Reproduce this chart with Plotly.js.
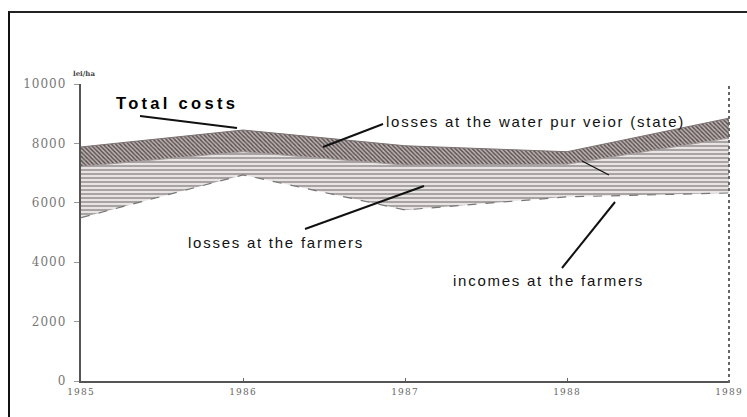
<!DOCTYPE html>
<html>
<head>
<meta charset="utf-8">
<script src="https://cdn.plot.ly/plotly-3.0.1.min.js"></script>
<style>
  html, body { margin: 0; padding: 0; background: #fff; overflow: hidden; }
  #wrap { position: relative; width: 747px; height: 417px; overflow: hidden; }
  #chart { width: 747px; height: 417px; }
  #frame { position: absolute; left: 8px; top: 11px; width: 800px; height: 500px;
           border-left: 2px solid #111; border-top: 2px solid #222; pointer-events: none; }
  .ytick text { letter-spacing: 1px; }
  .xtick text { letter-spacing: 1.2px; }
</style>
</head>
<body>
<div id="wrap">
  <div id="chart"></div>
  <div id="frame"></div>
</div>
<script>
// Data (lei/ha), stacked from bottom to top
const years = [1985, 1986, 1987, 1988, 1989];
const incomesFarmers = [5500, 6940, 5760, 6200, 6330];
const lossesFarmers = [1720, 780, 1510, 1100, 1850];
const lossesWaterPurveyor = [660, 730, 650, 420, 670];
const yTickVals = [0, 2000, 4000, 6000, 8000, 10000];
const yTickText = ['0', '2000', '4000', '6000', '8000', '10000'];
const xTickText = ['1985', '1986', '1987', '1988', '1989'];

// plot area geometry (pixels)
const L = 81, R = 729, T = 84, B = 381;
const W = R - L, H = B - T;
const px = v => (v - L) / W;
const py = v => (B - v) / H;

const traces = [
  {
    x: years, y: incomesFarmers, name: 'incomes at the farmers',
    type: 'scatter', mode: 'lines', stackgroup: 'one',
    line: { color: '#777', width: 1.2, dash: 'dash' },
    fillcolor: 'rgba(255,255,255,0)'
  },
  {
    x: years, y: lossesFarmers, name: 'losses at the farmers',
    type: 'scatter', mode: 'lines', stackgroup: 'one',
    line: { color: '#a29a9a', width: 1 },
    fillpattern: { shape: '-', fgcolor: '#8a8282', bgcolor: '#e8e4e4', size: 4, solidity: 0.33 }
  },
  {
    x: years, y: lossesWaterPurveyor, name: 'losses at the water pur veior (state)',
    type: 'scatter', mode: 'lines', stackgroup: 'one',
    line: { color: '#7a7070', width: 1 },
    fillpattern: { shape: '\\', fgcolor: '#564c4c', bgcolor: '#bcb2b2', size: 3, solidity: 0.45 }
  }
];

const textFont = { family: 'Liberation Sans, Arial, sans-serif', size: 15, color: '#111' };
function label(text, x, y, spacing, font) {
  return { text: '<span style="letter-spacing:' + spacing + 'px">' + text + '</span>',
           xref: 'paper', yref: 'paper', x: px(x), y: py(y),
           xanchor: 'left', yanchor: 'middle', showarrow: false, font: font || textFont };
}
function seg(x0, y0, x1, y1, w) {
  return { type: 'line', xref: 'paper', yref: 'paper', x0: px(x0), y0: py(y0), x1: px(x1), y1: py(y1),
           line: { color: '#111', width: w || 2 } };
}

const layout = {
  width: 747, height: 417,
  margin: { l: L, r: 747 - R, t: T, b: 417 - B, pad: 0 },
  paper_bgcolor: '#fff', plot_bgcolor: '#fff',
  showlegend: false,
  xaxis: {
    range: [1985, 1989], tickvals: years, ticktext: xTickText,
    showgrid: false, zeroline: false, showline: true, linecolor: '#555', linewidth: 1.5,
    ticks: 'inside', ticklen: 3, tickcolor: '#666', ticklabelstandoff: 2,
    tickfont: { family: 'DejaVu Serif, serif', size: 9, color: '#666' }
  },
  yaxis: {
    range: [0, 10000], tickvals: yTickVals, ticktext: yTickText,
    showgrid: false, zeroline: false, showline: true, linecolor: '#555', linewidth: 2.2,
    ticks: 'outside', ticklen: 5, tickcolor: '#999', ticklabelstandoff: 5,
    tickfont: { family: 'DejaVu Serif, serif', size: 12, color: '#777' }
  },
  annotations: [
    label('<b>Total costs</b>', 114, 103, 3.3, { family: 'Liberation Sans, Arial, sans-serif', size: 16.5, color: '#000' }),
    label('losses at the water pur veior (state)', 384, 121, 1.75),
    label('losses at the farmers', 186, 242, 1.75),
    label('incomes at the farmers', 451, 280, 1.75),
    label('<b>lei/ha</b>', 71, 74, 0, { family: 'DejaVu Serif, serif', size: 7, color: '#444' })
  ],
  shapes: [
    seg(140, 116, 237, 128, 2),
    seg(383, 124, 323, 147, 2),
    seg(305, 229, 424, 186, 2),
    seg(562, 268, 615, 202, 2),
    seg(582, 161, 609, 175, 1.3),
    { type: 'line', xref: 'paper', yref: 'paper', x0: 1, x1: 1, y0: py(383), y1: py(85),
      line: { color: '#666', width: 2, dash: 'dot' } }
  ]
};

Plotly.newPlot('chart', traces, layout, { displayModeBar: false, staticPlot: true });
</script>
</body>
</html>
